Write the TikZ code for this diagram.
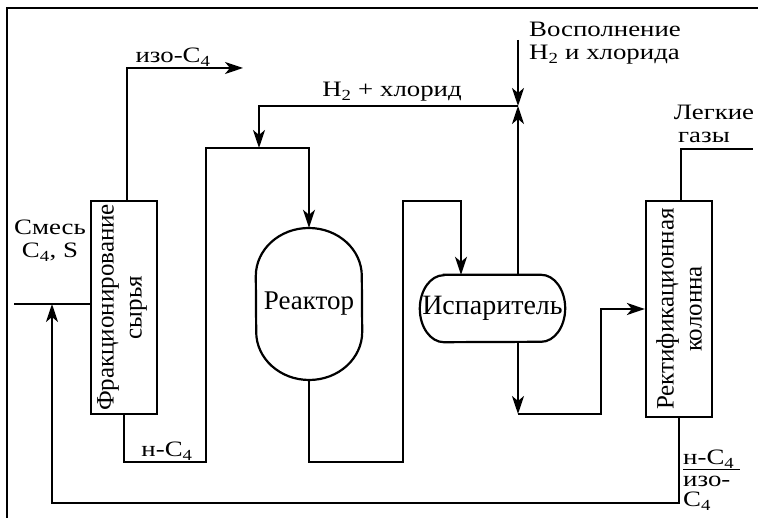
\documentclass[tikz,border=0pt]{standalone}
\usepackage{fontspec}
\setmainfont{Liberation Serif}
\newfontfamily\labfont{Liberation Serif}[FakeStretch=1.22]
\usetikzlibrary{arrows.meta,calc}
\begin{document}
\begin{tikzpicture}[x=1pt,y=1pt,
  flow/.style={line width=2.2pt},
  arr/.style={flow,-{Stealth[length=18pt,width=12pt,inset=5pt]}},
  unit/.style={draw,line width=2.2pt,inner sep=0pt},
  lab/.style={font=\labfont\fontsize{22}{24}\selectfont,inner sep=0pt},
  eqtext/.style={inner sep=0pt,align=center}]
\useasboundingbox (0,0) rectangle (758,518);
% frame
\draw[line width=1.4pt] (7,0) -- (7,510) -- (758,510);
% units
\node[unit,minimum width=66pt,minimum height=213pt] (frac) at (124,210.5) {};
\node[eqtext,rotate=90,font=\fontsize{25}{28}\selectfont] (fractxt) at ([xshift=-2pt]frac.center) {Фракционирование\\сырья};
\node[unit,minimum width=66pt,minimum height=216pt] (col) at (679,209) {};
\node[eqtext,rotate=90,font=\fontsize{25}{28}\selectfont] (coltxt) at (col.center) {Ректификационная\\колонна};
\node[eqtext,font=\fontsize{27}{29}\selectfont,minimum width=106pt,minimum height=152pt] (reac) at (309,214) {Реактор};
\draw[flow] ($(reac.west)+(0,28)$) arc[start angle=180,end angle=0,x radius=53,y radius=48]
  -- ($(reac.east)+(0,-28)$) arc[start angle=0,end angle=-180,x radius=53,y radius=48] -- cycle;
\node[eqtext,font=\fontsize{28}{30}\selectfont,minimum width=145pt,minimum height=67pt] (evap) at (492.5,209.5) {Испаритель};
\draw[flow] ($(evap.north west)+(24,0)$) -- ($(evap.north east)+(-24,0)$)
  arc[start angle=90,end angle=-90,x radius=24,y radius=33.5]
  -- ($(evap.south west)+(24,0)$)
  arc[start angle=270,end angle=90,x radius=24,y radius=33.5] -- cycle;
% coordinates
\coordinate (isoend) at (243,450);
\coordinate (nb) at (206,56);
\coordinate (nc) at (206,370);
\coordinate (J) at (518,412);
\coordinate (mk) at (518,478);
\coordinate (hj) at (259,370);
\coordinate (r1) at (403,56);
\coordinate (r2) at (403,317);
\coordinate (e1) at (518,104);
\coordinate (e2) at (601,104);
\coordinate (lg) at (753,369);
\coordinate (rb) at (52,15);
\coordinate (rc) at (52,214);
\coordinate (feed) at (14,214);
% connectors
\draw[arr] ([xshift=3pt]frac.north) |- (isoend);
\draw[arr] (frac.south) |- (nb) -- (nc) -| (reac.north);
\draw[arr] (mk) -- (J);
\draw[arr] ([xshift=25.5pt]evap.north) -- (J);
\draw[arr] (J) -| (hj);
\draw[arr] (reac.south) |- (r1) -- (r2) -| ([xshift=-31.5pt]evap.north);
\draw[arr] ([xshift=25.5pt]evap.south) -- (e1);
\draw[arr] (e1) -- (e2) |- (col.west);
\draw[flow] ([xshift=2pt]col.north) |- (lg);
\draw[arr] (col.south) |- (rb) -- (rc);
\draw[line width=1.2pt] (feed) -- (feed -| frac.west);
% labels
\node[lab,anchor=base] (lIso) at (173,455) {изо-C\textsubscript{4}};
\node[lab,anchor=base] (lH) at (392,421) {H\textsubscript{2} + хлорид};
\node[lab,anchor=base west] (lMk1) at (529,481) {Восполнение};
\node[lab,anchor=base west] (lMk2) at (529,458) {H\textsubscript{2} и хлорида};
\node[lab,anchor=base] (lMix1) at (50,283) {Смесь};
\node[lab,anchor=base] (lMix2) at (50,260) {C\textsubscript{4}, S};
\node[lab,anchor=base] (lN) at (167,61) {н-C\textsubscript{4}};
\node[lab,anchor=base] (lG1) at (714,398) {Легкие};
\node[lab,anchor=base] (lG2) at (704,375) {газы};
\node[lab,anchor=base west] (lF1) at (683,53) {н-C\textsubscript{4}};
\draw[line width=1pt] (683,48) -- (740,48);
\node[lab,anchor=base west] (lF2) at (683,31) {изо-};
\node[lab,anchor=base west] (lF3) at (683,11) {C\textsubscript{4}};
\end{tikzpicture}
\end{document}
